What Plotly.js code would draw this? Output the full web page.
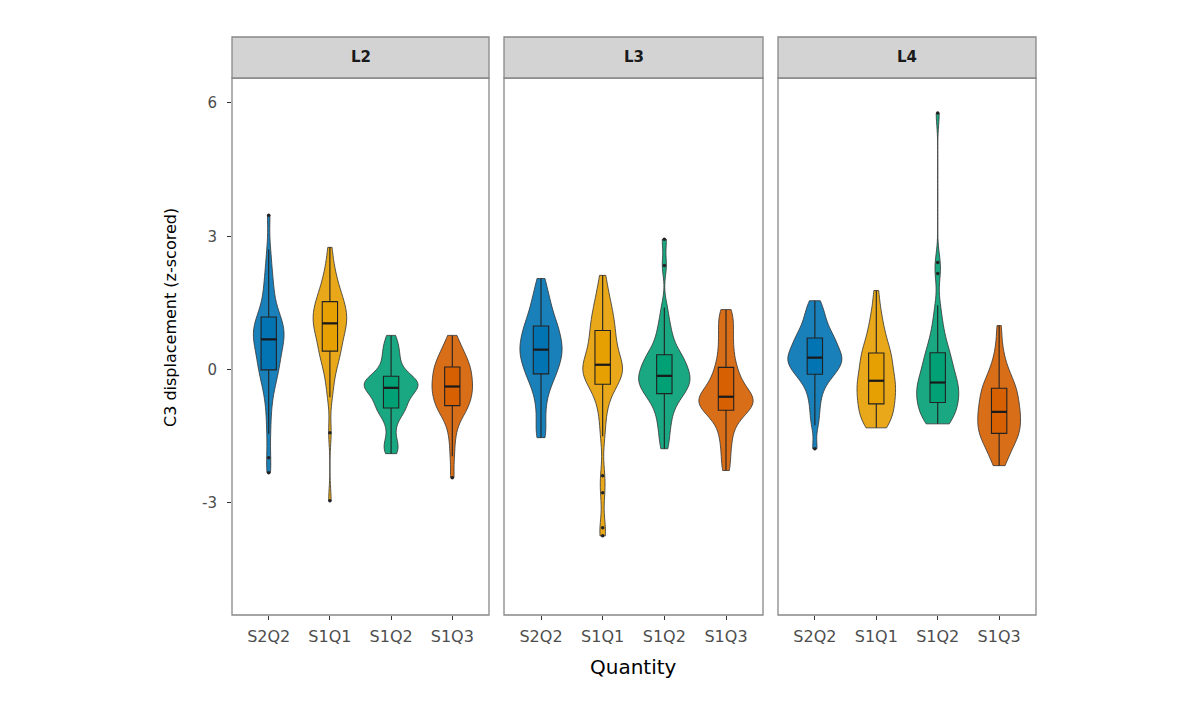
<!DOCTYPE html>
<html>
<head>
<meta charset="utf-8">
<script src="https://cdn.plot.ly/plotly-3.0.1.min.js"></script>
<style>
  body { margin: 0; background: #fff; }
  #plot { width: 1200px; height: 726px; }
</style>
</head>
<body>
<div id="plot"></div>
<script>
// categories on x, one facet per level
const categories = ['S2Q2', 'S1Q1', 'S1Q2', 'S1Q3'];
const panels = ['L2', 'L3', 'L4'];

const L2_S2Q2 = [-2.32, -1.98, -1.45, -1.05, -0.72, -0.5, -0.35, -0.22, -0.12, -0.03,
  0.02, 0.1, 0.18, 0.26, 0.34, 0.41, 0.48, 0.55, 0.61, 0.66,
  0.70, 0.75, 0.8, 0.85, 0.9, 0.95, 1.0, 1.05, 1.1, 1.15,
  1.22, 1.32, 1.45, 1.6, 1.75, 1.92, 2.1, 2.35, 2.7, 3.47];
const L2_S1Q1 = [-2.95, -1.42, -0.62, -0.38, -0.15, 0.02, 0.14, 0.24, 0.32, 0.39,
  0.44, 0.52, 0.6, 0.68, 0.75, 0.82, 0.88, 0.93, 0.98, 1.02,
  1.06, 1.1, 1.15, 1.2, 1.25, 1.3, 1.35, 1.4, 1.45, 1.5,
  1.56, 1.62, 1.69, 1.77, 1.86, 1.96, 2.08, 2.22, 2.42, 2.75];
const L2_S1Q2 = [-1.89, -1.8, -1.72, -1.62, -1.4, -1.2, -1.07, -0.98, -0.92, -0.88,
  -0.85, -0.79, -0.73, -0.67, -0.61, -0.56, -0.52, -0.48, -0.45, -0.42,
  -0.40, -0.37, -0.35, -0.32, -0.3, -0.27, -0.24, -0.21, -0.19, -0.17,
  -0.13, -0.05, 0.04, 0.13, 0.22, 0.32, 0.42, 0.52, 0.63, 0.77];
const L2_S1Q3 = [-2.43, -1.95, -1.6, -1.35, -1.18, -1.06, -0.98, -0.92, -0.87, -0.83,
  -0.79, -0.74, -0.69, -0.64, -0.59, -0.54, -0.5, -0.46, -0.42, -0.39,
  -0.37, -0.32, -0.27, -0.22, -0.17, -0.12, -0.08, -0.04, 0.0, 0.04,
  0.08, 0.13, 0.18, 0.24, 0.3, 0.36, 0.43, 0.51, 0.62, 0.77];

const L3_S2Q2 = [-1.53, -1.42, -1.2, -0.92, -0.7, -0.52, -0.38, -0.26, -0.17, -0.11,
  -0.08, 0.0, 0.07, 0.13, 0.19, 0.25, 0.3, 0.35, 0.4, 0.44,
  0.46, 0.51, 0.56, 0.62, 0.68, 0.74, 0.8, 0.86, 0.91, 0.96,
  1.0, 1.08, 1.16, 1.25, 1.35, 1.45, 1.56, 1.68, 1.84, 2.05];
const L3_S1Q1 = [-3.74, -3.56, -2.77, -2.39, -1.5, -1.1, -0.82, -0.62, -0.47, -0.36,
  -0.3, -0.24, -0.19, -0.14, -0.09, -0.05, -0.01, 0.03, 0.07, 0.1,
  0.12, 0.19, 0.27, 0.35, 0.43, 0.51, 0.59, 0.67, 0.75, 0.84,
  0.92, 1.0, 1.09, 1.18, 1.28, 1.39, 1.51, 1.65, 1.84, 2.12];
const L3_S1Q2 = [-1.78, -1.55, -1.35, -1.18, -1.03, -0.9, -0.79, -0.7, -0.62, -0.56,
  -0.52, -0.47, -0.43, -0.38, -0.34, -0.3, -0.26, -0.22, -0.18, -0.15,
  -0.13, -0.08, -0.03, 0.02, 0.07, 0.12, 0.17, 0.22, 0.27, 0.31,
  0.36, 0.45, 0.55, 0.66, 0.79, 0.94, 1.12, 1.4, 2.34, 2.93];
const L3_S1Q3 = [-2.27, -2.05, -1.8, -1.6, -1.43, -1.28, -1.15, -1.05, -0.98, -0.93,
  -0.9, -0.86, -0.83, -0.79, -0.76, -0.72, -0.69, -0.66, -0.64, -0.62,
  -0.6, -0.55, -0.5, -0.44, -0.38, -0.31, -0.24, -0.16, -0.08, 0.0,
  0.1, 0.22, 0.36, 0.5, 0.65, 0.8, 0.95, 1.1, 1.23, 1.35];

const L4_S2Q2 = [-1.78, -1.25, -1.02, -0.8, -0.62, -0.47, -0.35, -0.25, -0.17, -0.12,
  -0.09, -0.04, 0.01, 0.06, 0.1, 0.14, 0.18, 0.21, 0.24, 0.26,
  0.28, 0.32, 0.36, 0.41, 0.46, 0.51, 0.56, 0.61, 0.65, 0.69,
  0.73, 0.79, 0.86, 0.93, 1.01, 1.1, 1.2, 1.3, 1.42, 1.55];
const L4_S1Q1 = [-1.31, -1.27, -1.22, -1.16, -1.1, -1.04, -0.97, -0.9, -0.84, -0.79,
  -0.75, -0.69, -0.63, -0.57, -0.51, -0.46, -0.4, -0.35, -0.3, -0.26,
  -0.24, -0.17, -0.1, -0.03, 0.04, 0.11, 0.18, 0.24, 0.3, 0.35,
  0.4, 0.48, 0.57, 0.67, 0.78, 0.9, 1.04, 1.2, 1.42, 1.78];
const L4_S1Q2 = [-1.22, -1.19, -1.15, -1.1, -1.05, -0.99, -0.93, -0.87, -0.81, -0.76,
  -0.72, -0.67, -0.62, -0.57, -0.52, -0.47, -0.42, -0.38, -0.34, -0.3,
  -0.28, -0.21, -0.14, -0.07, 0.0, 0.07, 0.14, 0.21, 0.28, 0.34,
  0.42, 0.52, 0.64, 0.78, 0.95, 1.15, 1.45, 2.16, 2.41, 5.77];
const L4_S1Q3 = [-2.16, -2.04, -1.93, -1.83, -1.74, -1.66, -1.59, -1.53, -1.49, -1.45,
  -1.42, -1.36, -1.31, -1.26, -1.21, -1.16, -1.11, -1.06, -1.01, -0.97,
  -0.93, -0.88, -0.83, -0.77, -0.72, -0.66, -0.6, -0.54, -0.49, -0.44,
  -0.4, -0.34, -0.27, -0.19, -0.1, 0.0, 0.13, 0.3, 0.58, 0.99];

const groups = {
  L2: [L2_S2Q2, L2_S1Q1, L2_S1Q2, L2_S1Q3],
  L3: [L3_S2Q2, L3_S1Q1, L3_S1Q2, L3_S1Q3],
  L4: [L4_S2Q2, L4_S1Q1, L4_S1Q2, L4_S1Q3]
};

const fillColors = ['#0072B2', '#E69F00', '#009E73', '#D55E00'];
const FONT = 'DejaVu Sans, Liberation Sans, sans-serif';

// panel edges in px (the picture is 1200 wide), plot area spans y 78..615
const W = 1200, H = 726, TOP = 78, BOTTOM = 615;
const panelPx = [[232, 489], [504, 763], [778, 1036]];
const X_RANGE = [-0.6, 3.6];
const BOX_W = 0.25;

function quantile(sorted, p) {
  const pos = (sorted.length - 1) * p;
  const lo = Math.floor(pos), hi = Math.ceil(pos);
  return sorted[lo] + (sorted[hi] - sorted[lo]) * (pos - lo);
}

// same rule of thumb ggplot uses (bw.nrd0), a bit tighter
function bwNrd0(vals) {
  const s = vals.slice().sort((a, b) => a - b);
  const n = s.length;
  const mean = s.reduce((a, b) => a + b, 0) / n;
  const sd = Math.sqrt(s.reduce((a, b) => a + (b - mean) * (b - mean), 0) / (n - 1));
  const iqr = quantile(s, 0.75) - quantile(s, 0.25);
  const lo = Math.min(sd, iqr / 1.34);
  return 0.8 * 0.9 * lo * Math.pow(n, -0.2);
}

function rgba(hex, a) {
  const r = parseInt(hex.slice(1, 3), 16), g = parseInt(hex.slice(3, 5), 16), b = parseInt(hex.slice(5, 7), 16);
  return `rgba(${r},${g},${b},${a})`;
}

let traces = [];
let medianTraces = [];
for (let i = 0; i < panels.length; i++) {
  const xa = i === 0 ? 'x' : 'x' + (i + 1);
  const xMed = 'x' + (i + 4);   // hidden linear axis on top of the panel, for the median bars
  for (let j = 0; j < categories.length; j++) {
    const vals = groups[panels[i]][j];
    const xs = vals.map(() => categories[j]);
    // no width here so the panel's scalegroup sets the widths (equal areas, like ggplot)
    traces.push({
      type: 'violin', x: xs, y: vals, xaxis: xa, yaxis: 'y',
      scalegroup: panels[i], scalemode: 'width', spanmode: 'hard',
      bandwidth: bwNrd0(vals),
      fillcolor: rgba(fillColors[j], 0.9),
      line: {color: '#333333', width: 0.8},
      points: false, box: {visible: false}, meanline: {visible: false},
      showlegend: false, hoverinfo: 'skip'
    });
    traces.push({
      type: 'box', x: xs, y: vals, xaxis: xa, yaxis: 'y',
      width: BOX_W, whiskerwidth: 0,
      fillcolor: rgba(fillColors[j], 0.9),
      line: {color: '#222222', width: 1.1},
      boxpoints: 'outliers',
      marker: {color: '#222222', size: 3.5},
      showlegend: false, hoverinfo: 'skip'
    });
    // ggplot draws the median heavier than the box outline
    const med = quantile(vals.slice().sort((a, b) => a - b), 0.5);
    medianTraces.push({
      type: 'scatter', mode: 'lines', xaxis: xMed, yaxis: 'y',
      x: [j - BOX_W / 2, j + BOX_W / 2], y: [med, med],
      line: {color: '#1a1a1a', width: 2.2},
      showlegend: false, hoverinfo: 'skip'
    });
  }
}
traces = traces.concat(medianTraces);

function xAxis(i) {
  return {
    domain: [panelPx[i][0] / W, panelPx[i][1] / W],
    anchor: 'y', type: 'category',
    categoryorder: 'array', categoryarray: categories,
    range: X_RANGE,
    showgrid: false, zeroline: false, showline: false,
    ticks: 'outside', ticklen: 4, tickwidth: 1, tickcolor: '#333333',
    ticklabelstandoff: 3,
    tickfont: {family: FONT, size: 16, color: '#4d4d4d'}
  };
}

function medAxis(i) {
  return {
    overlaying: i === 0 ? 'x' : 'x' + (i + 1),
    anchor: 'y', type: 'linear', range: X_RANGE, visible: false
  };
}

let shapes = [];
let annotations = [];
const stripTop = (BOTTOM - 37) / (BOTTOM - TOP);
for (let i = 0; i < panels.length; i++) {
  const x0 = panelPx[i][0] / W, x1 = panelPx[i][1] / W;
  // panel border
  shapes.push({type: 'rect', xref: 'paper', yref: 'paper', x0: x0, x1: x1, y0: 0, y1: 1,
    line: {color: '#888888', width: 1.3}, fillcolor: 'rgba(0,0,0,0)', layer: 'below'});
  // strip
  shapes.push({type: 'rect', xref: 'paper', yref: 'paper', x0: x0, x1: x1, y0: 1, y1: stripTop,
    line: {color: '#888888', width: 1.3}, fillcolor: '#d3d3d3'});
  annotations.push({text: '<b>' + panels[i] + '</b>', xref: 'paper', yref: 'paper',
    x: (x0 + x1) / 2, y: (1 + stripTop) / 2, xanchor: 'center', yanchor: 'middle',
    showarrow: false, font: {family: FONT, size: 15, color: '#1a1a1a'}});
}
// axis titles
annotations.push({text: 'Quantity', xref: 'paper', yref: 'paper',
  x: (panelPx[1][0] + panelPx[1][1]) / 2 / W, y: (BOTTOM - 667) / (BOTTOM - TOP),
  xanchor: 'center', yanchor: 'middle', showarrow: false,
  font: {family: FONT, size: 20, color: '#000000'}});
annotations.push({text: 'C3 displacement (z-scored)', xref: 'paper', yref: 'paper',
  x: 170 / W, y: (BOTTOM - 318) / (BOTTOM - TOP), textangle: -90,
  xanchor: 'center', yanchor: 'middle', showarrow: false,
  font: {family: FONT, size: 16, color: '#000000'}});

const layout = {
  width: W, height: H,
  margin: {l: 0, r: 0, t: TOP, b: H - BOTTOM},
  paper_bgcolor: '#ffffff', plot_bgcolor: '#ffffff',
  boxmode: 'overlay', violinmode: 'overlay',
  violingap: 0.12, violingroupgap: 0,
  showlegend: false,
  xaxis: xAxis(0), xaxis2: xAxis(1), xaxis3: xAxis(2),
  xaxis4: medAxis(0), xaxis5: medAxis(1), xaxis6: medAxis(2),
  yaxis: {
    domain: [0, 1], anchor: 'x', range: [-5.52, 6.56],
    tickvals: [-3, 0, 3, 6], ticktext: ['-3', '0', '3', '6'],
    showgrid: false, zeroline: false, showline: false,
    ticks: 'outside', ticklen: 4, tickwidth: 1, tickcolor: '#333333',
    ticklabelstandoff: 7,
    tickfont: {family: FONT, size: 15, color: '#4d4d4d'}
  },
  shapes: shapes,
  annotations: annotations
};

Plotly.newPlot('plot', traces, layout, {staticPlot: true});
</script>
</body>
</html>
